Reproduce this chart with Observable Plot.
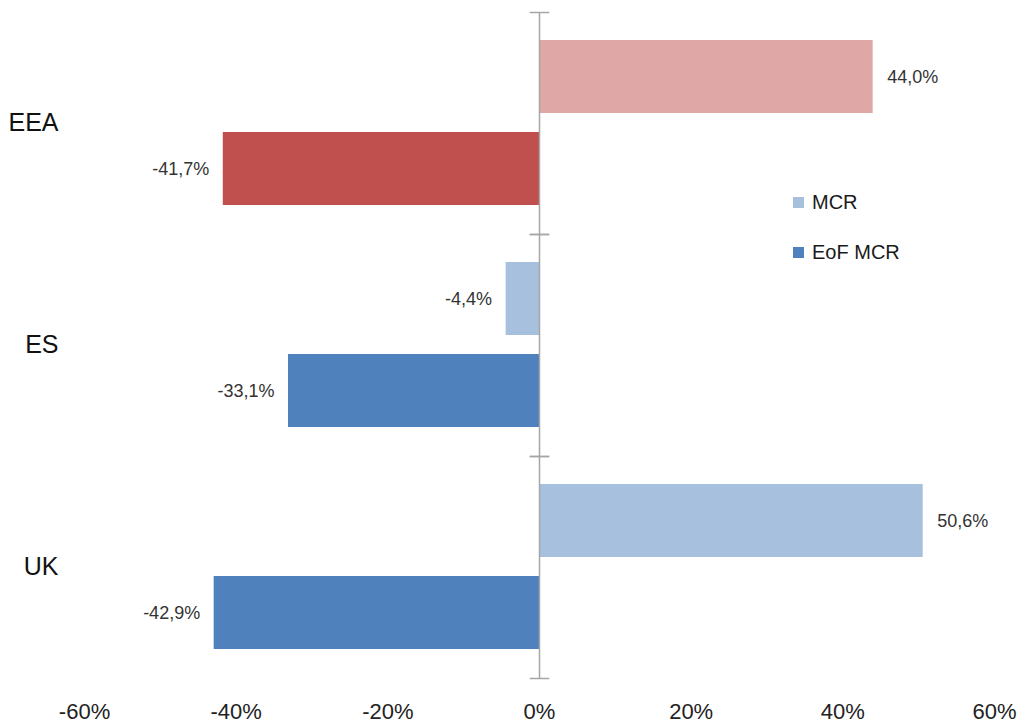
<!DOCTYPE html>
<html>
<head>
<meta charset="utf-8">
<script src="https://cdn.jsdelivr.net/npm/d3@7"></script>
<script src="https://cdn.jsdelivr.net/npm/@observablehq/plot@0.6"></script>
<style>
  html, body { margin: 0; padding: 0; background: #fff; }
  #wrap { position: relative; width: 1019px; height: 723px; font-family: "Liberation Sans", Arial, sans-serif; }
  #legend { position: absolute; left: 793px; top: 188px; font-size: 20px; color: #1a1a1a; }
  .li { display: flex; align-items: center; height: 28px; margin-bottom: 22px; }
  .sw { width: 11px; height: 11px; margin-right: 8px; }
</style>
</head>
<body>
<div id="wrap">
  <div id="chart"></div>
  <div id="legend"></div>
</div>
<script>
// ---- data ----
const countries = ["EEA", "ES", "UK"];
const series = ["MCR", "EoF MCR"];
const mcrValues = [44.0, -4.4, 50.6];
const eofValues = [-41.7, -33.1, -42.9];
const xTicks = [-60, -40, -20, 0, 20, 40, 60];

// colours: EEA shown in red tones, other countries in blue tones
const redShades = {"MCR": "#DFA7A6", "EoF MCR": "#C0504D"};
const blueShades = {"MCR": "#A7C0DE", "EoF MCR": "#4F81BD"};

const rows = [];
countries.forEach((c, i) => {
  rows.push({country: c, series: "MCR", value: mcrValues[i]});
  rows.push({country: c, series: "EoF MCR", value: eofValues[i]});
});
const colorOf = d => (d.country === "EEA" ? redShades : blueShades)[d.series];
const fmt = v => v.toFixed(1).replace(".", ",") + "%";

const W = 1019, H = 723, mL = 84, mR = 25, mT = 12, mB = 45;
const halfInner = (W - mL - mR) / 2;
const axisGray = "#A6A6A6";

const chart = Plot.plot({
  width: W, height: H,
  marginLeft: mL, marginRight: mR, marginTop: mT, marginBottom: mB,
  style: {fontFamily: "'Liberation Sans', Arial, sans-serif", background: "#fff"},
  x: {domain: [-60, 60]},
  y: {domain: series, paddingInner: 0.204, paddingOuter: 0.296, axis: null},
  fy: {domain: countries, padding: 0, axis: null},
  color: {type: "identity"},
  marks: [
    Plot.barX(rows, {fy: "country", y: "series", x: "value", fill: colorOf}),
    Plot.ruleX([0], {stroke: axisGray, strokeWidth: 1.5}),
    Plot.frame({anchor: "top", stroke: axisGray, strokeWidth: 1.5, insetLeft: halfInner - 9, insetRight: halfInner - 9}),
    Plot.frame({anchor: "bottom", stroke: axisGray, strokeWidth: 1.5, insetLeft: halfInner - 9, insetRight: halfInner - 9}),
    Plot.text(rows.filter(d => d.value >= 0), {fy: "country", y: "series", x: "value", text: d => fmt(d.value), textAnchor: "start", dx: 14, fontSize: 18, fill: "#333"}),
    Plot.text(rows.filter(d => d.value < 0), {fy: "country", y: "series", x: "value", text: d => fmt(d.value), textAnchor: "end", dx: -14, fontSize: 18, fill: "#333"}),
    Plot.text(countries, {fy: d => d, text: d => d, frameAnchor: "left", textAnchor: "end", dx: -26, dy: -1, fontSize: 25, fill: "#111"}),
    Plot.axisX({ticks: xTicks, tickFormat: d => d + "%", tickSize: 0, tickPadding: 25, fontSize: 22, fill: "#222", label: null})
  ]
});
document.getElementById("chart").appendChild(chart);

// legend (inside plot area, right side)
const legend = document.getElementById("legend");
series.forEach(s => {
  const item = document.createElement("div");
  item.className = "li";
  const sw = document.createElement("span");
  sw.className = "sw";
  sw.style.background = blueShades[s];
  const t = document.createElement("span");
  t.textContent = s;
  item.appendChild(sw); item.appendChild(t);
  legend.appendChild(item);
});
</script>
</body>
</html>
